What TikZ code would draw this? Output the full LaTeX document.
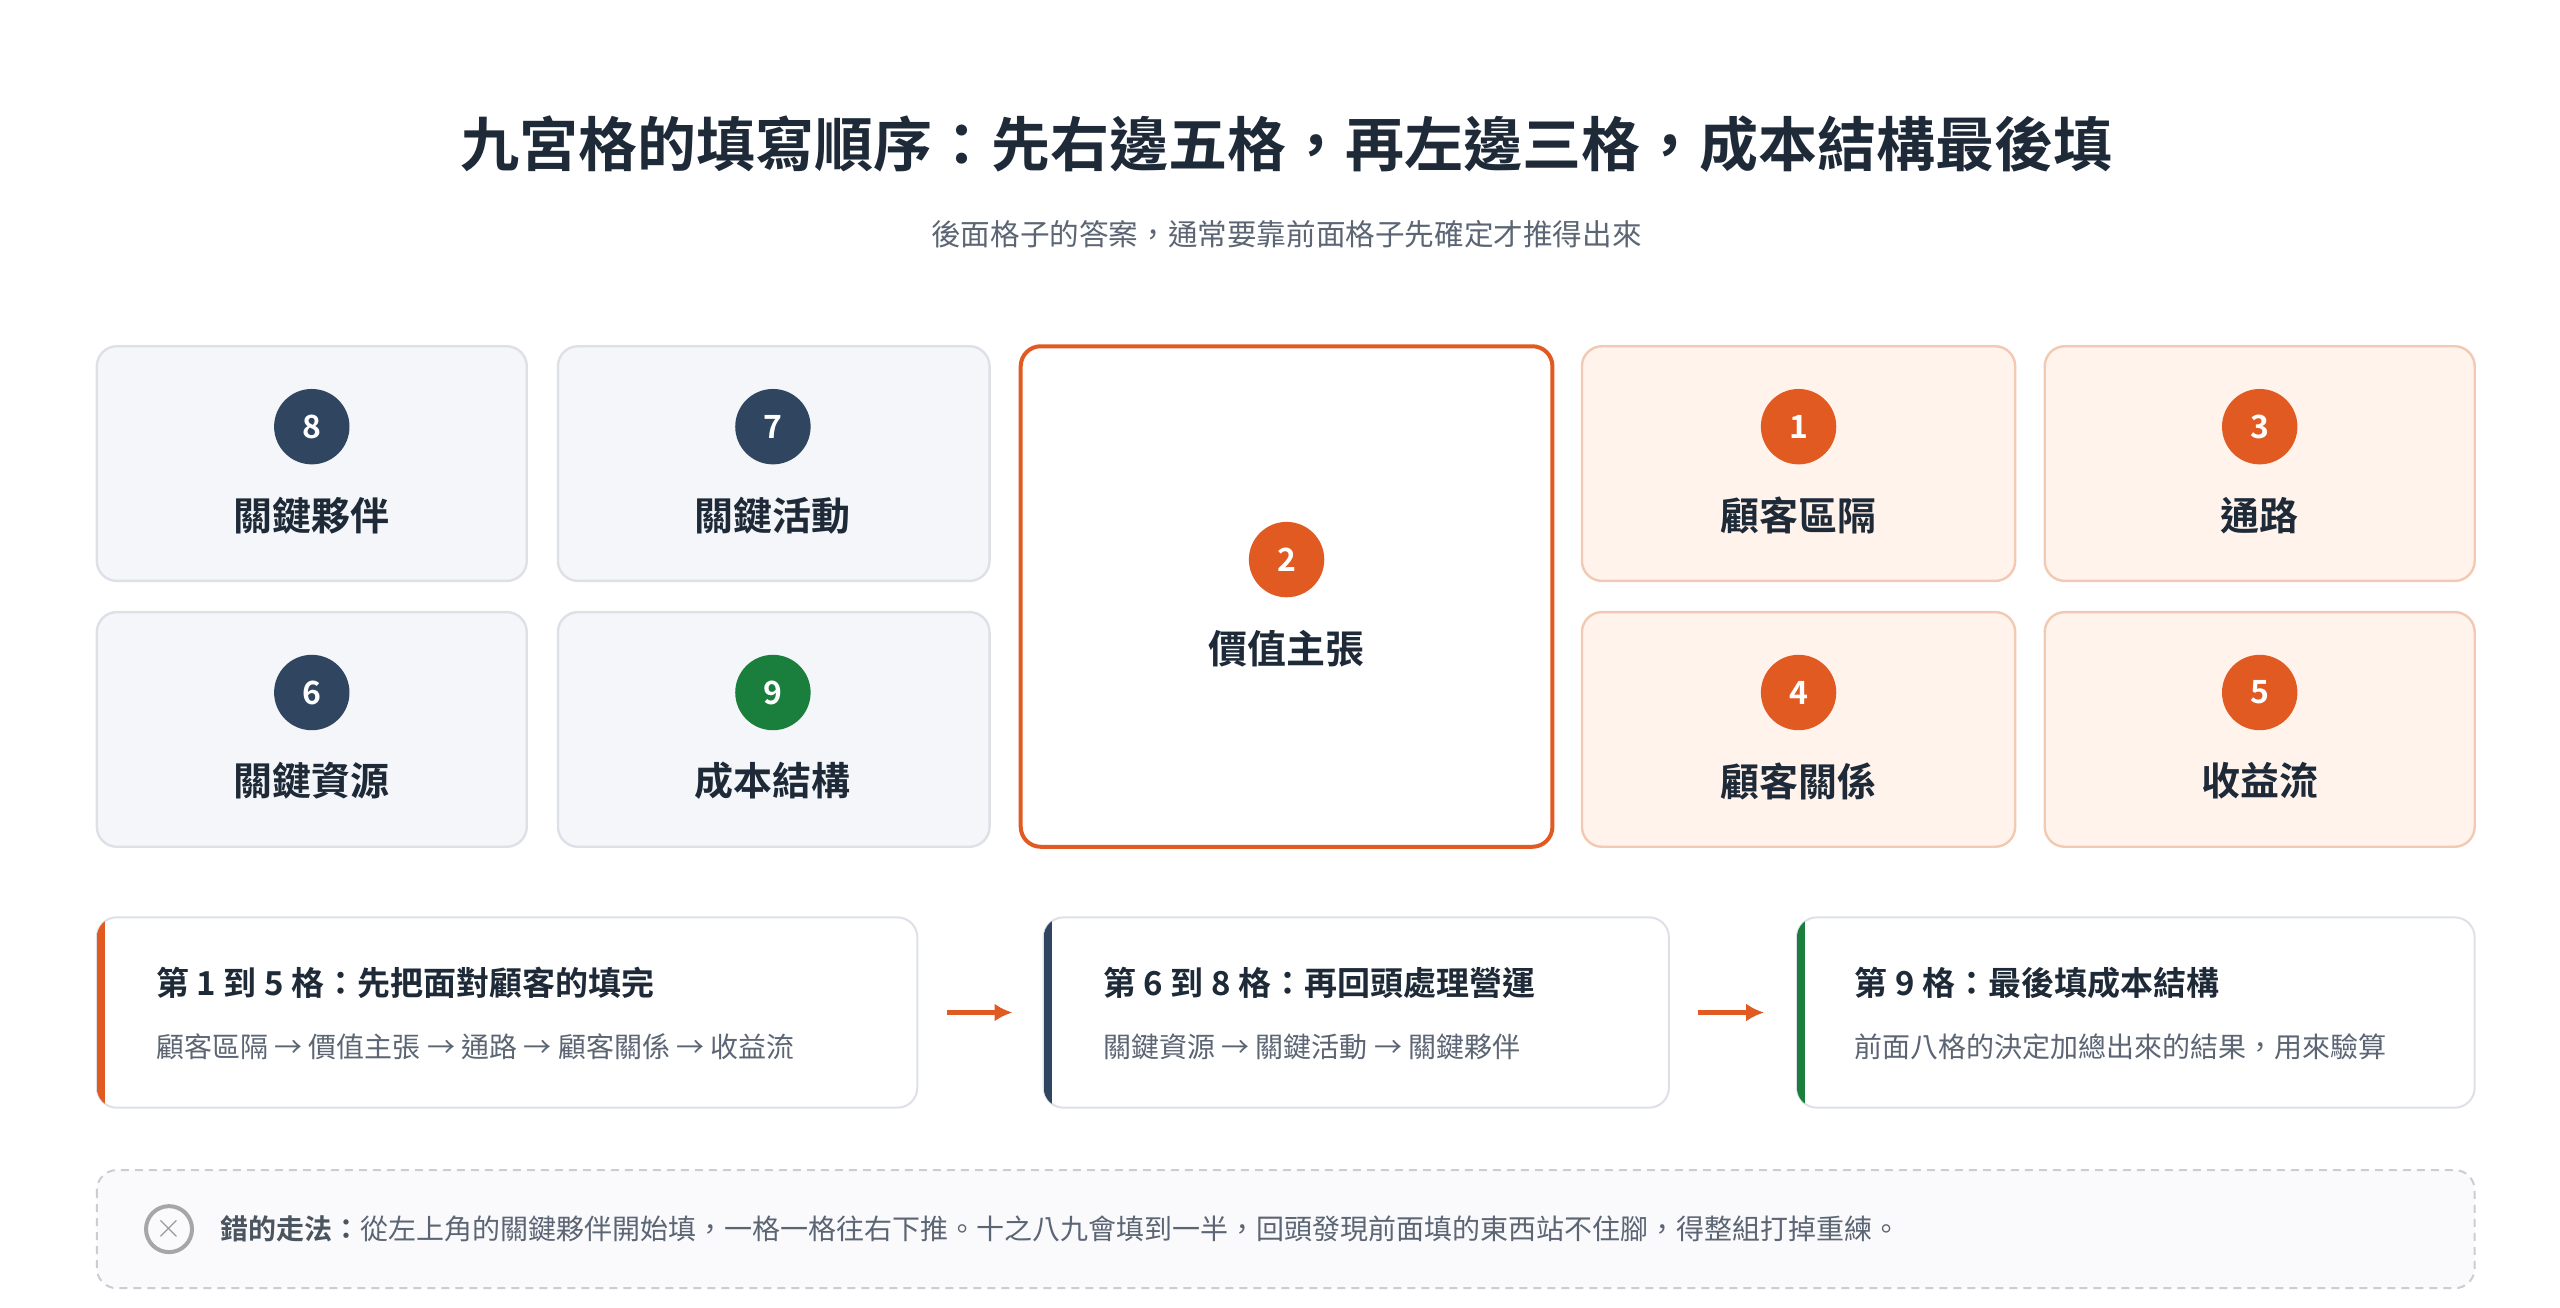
\documentclass[tikz,border=0pt]{standalone}
\usepackage{fontspec}
\setmainfont{Noto Sans CJK TC}[BoldFont={Noto Sans CJK TC Bold}]
\begin{document}
\definecolor{navy}{HTML}{2F4560}
\definecolor{org}{HTML}{E05A22}
\definecolor{grn}{HTML}{1A7F3C}
\definecolor{ink}{HTML}{1E2A38}
\definecolor{gtxt}{HTML}{5B6573}
\definecolor{gfill}{HTML}{F4F6F9}
\definecolor{gline}{HTML}{DDE1E7}
\definecolor{ofill}{HTML}{FFF3EC}
\definecolor{oline}{HTML}{F2C9B2}
\begin{tikzpicture}[x=0.8205pt,y=-0.8205pt,
  gbox/.style={draw=gline,fill=gfill,line width=1.2pt,rounded corners=10pt},
  obox/.style={draw=oline,fill=ofill,line width=1.2pt,rounded corners=10pt},
  num/.style={circle,minimum size=37.7pt,inner sep=0pt,text=white,font=\bfseries\fontsize{16}{16}\selectfont},
  lab/.style={text=ink,font=\bfseries\fontsize{19.5}{22}\selectfont},
  card/.style={draw=gline,fill=white,line width=1pt,rounded corners=10pt},
  ctitle/.style={anchor=west,text=ink,font=\bfseries\fontsize{16.5}{20}\selectfont},
  csub/.style={anchor=west,text=gtxt,font=\fontsize{14}{17}\selectfont},
  arr/.style={-{Latex[length=9pt,width=9pt]},draw=org,line width=2.5pt}]
\usetikzlibrary{arrows.meta}
\useasboundingbox (0,0) rectangle (1560,797);
\fill[white] (0,0) rectangle (1560,797);
\node[text=ink,font=\bfseries\fontsize{29.5}{32}\selectfont] (title) at (784,88) {九宮格的填寫順序：先右邊五格，再左邊三格，成本結構最後填};
\node[text=gtxt,font=\fontsize{14.8}{17}\selectfont] (sub) at (784,143) {後面格子的答案，通常要靠前面格子先確定才推得出來};
% grid
\draw[gbox] (59,211) rectangle (321,354);
\draw[gbox] (340,211) rectangle (603,354);
\draw[gbox] (59,373) rectangle (321,516);
\draw[gbox] (340,373) rectangle (603,516);
\draw[obox] (964,211) rectangle (1228,354);
\draw[obox] (1246,211) rectangle (1508,354);
\draw[obox] (964,373) rectangle (1228,516);
\draw[obox] (1246,373) rectangle (1508,516);
\draw[draw=org,fill=white,line width=2pt,rounded corners=10pt] (622,211) rectangle (946,516);
\node[num,fill=navy] (n8) at (190,260) {8}; \node[lab] (l8) at (190,314) {關鍵夥伴};
\node[num,fill=navy] (n7) at (471,260) {7}; \node[lab] (l7) at (471,314) {關鍵活動};
\node[num,fill=navy] (n6) at (190,422) {6}; \node[lab] (l6) at (190,476) {關鍵資源};
\node[num,fill=grn] (n9) at (471,422) {9}; \node[lab] (l9) at (471,476) {成本結構};
\node[num,fill=org] (n2) at (784,341) {2}; \node[lab] (l2) at (784,395) {價值主張};
\node[num,fill=org] (n1) at (1096,260) {1}; \node[lab] (l1) at (1096,314) {顧客區隔};
\node[num,fill=org] (n3) at (1377,260) {3}; \node[lab] (l3) at (1377,314) {通路};
\node[num,fill=org] (n4) at (1096,422) {4}; \node[lab] (l4) at (1096,476) {顧客關係};
\node[num,fill=org] (n5) at (1377,422) {5}; \node[lab] (l5) at (1377,476) {收益流};
% cards
\foreach \xa/\xb/\c in {59/559/org,636/1017/navy,1095/1508/grn}{
  \draw[card] (\xa,559) rectangle (\xb,675);
  \begin{scope}
    \clip[rounded corners=10pt] (\xa,559) rectangle (\xb,675);
    \fill[\c] (\xa,559) rectangle (\xa+5,675);
  \end{scope}
}
\node[ctitle] (t1) at (91,599) {第 1 到 5 格：先把面對顧客的填完};
\node[csub] (s1) at (91,638) {顧客區隔 → 價值主張 → 通路 → 顧客關係 → 收益流};
\node[ctitle] (t2) at (668,599) {第 6 到 8 格：再回頭處理營運};
\node[csub] (s2) at (668,638) {關鍵資源 → 關鍵活動 → 關鍵夥伴};
\node[ctitle] (t3) at (1126,599) {第 9 格：最後填成本結構};
\node[csub] (s3) at (1126,638) {前面八格的決定加總出來的結果，用來驗算};
\coordinate (a1) at (577,617); \coordinate (b1) at (617,617);
\coordinate (a2) at (1035,617); \coordinate (b2) at (1075,617);
\draw[arr] (a1) -- (b1);
\draw[arr] (a2) -- (b2);
% bottom note
\draw[draw=gline!80!gray,fill=gfill!50!white,line width=1pt,dashed,dash pattern=on 4pt off 3pt,rounded corners=10pt] (59,713) rectangle (1508,785);
\node[circle,draw=gray!70,line width=2pt,minimum size=23pt,inner sep=0pt,text=gray!80,font=\fontsize{16}{16}\selectfont] (x) at (103,749) {$\times$};
\node[anchor=west,text=gtxt,font=\fontsize{14}{17}\selectfont] (note) at (130,749) {\textbf{\color{ink!80}錯的走法：}從左上角的關鍵夥伴開始填，一格一格往右下推。十之八九會填到一半，回頭發現前面填的東西站不住腳，得整組打掉重練。};
\end{tikzpicture}
\end{document}
